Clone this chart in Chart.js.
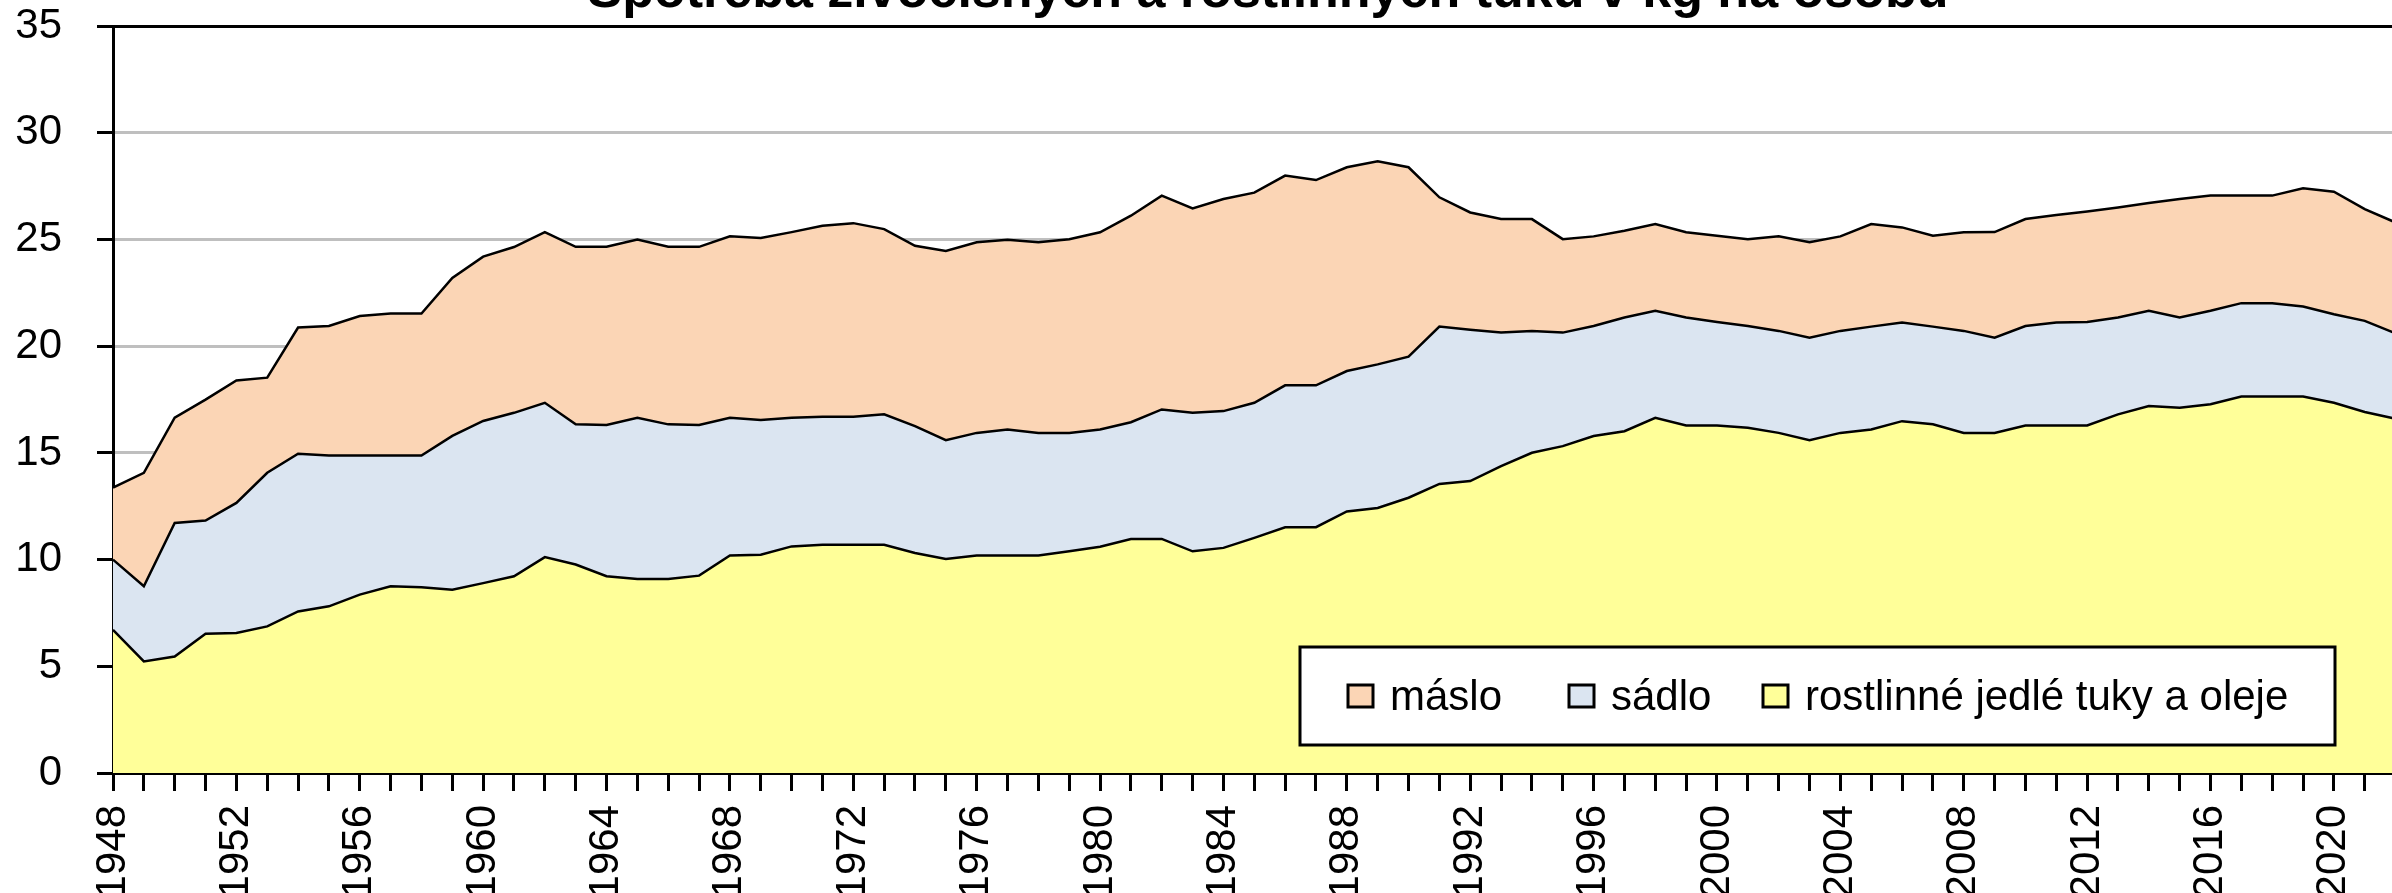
<!DOCTYPE html>
<html>
<head>
<meta charset="utf-8">
<script src="https://cdn.jsdelivr.net/npm/chart.js@4.4.1/dist/chart.umd.min.js"></script>
<style>
  html, body { margin: 0; padding: 0; background: #fff; overflow: hidden; }
  #wrap { position: absolute; left: 0; top: -34px; width: 2460px; height: 927px; }
  canvas { display: block; }
</style>
</head>
<body>
<div id="wrap"><canvas id="c" width="2460" height="927"></canvas></div>
<script>
const titleText = "Spotřeba živočišných a rostlinných tuků v kg na osobu";
const years = [];
for (let y = 1948; y <= 2022; y++) years.push(String(y));

const seriesNames = ["máslo", "sádlo", "rostlinné jedlé tuky a oleje"];

const oleje = [6.71,5.23,5.46,6.53,6.56,6.87,7.57,7.81,8.36,8.75,8.70,8.59,8.90,9.22,10.12,9.77,9.22,9.09,9.09,9.25,
  10.19,10.23,10.62,10.70,10.70,10.70,10.31,10.03,10.19,10.19,10.19,10.39,10.60,10.97,10.97,10.39,10.55,11.02,11.52,11.52,
  12.26,12.42,12.90,13.55,13.68,14.38,15.01,15.32,15.79,16.02,16.65,16.29,16.29,16.18,15.94,15.60,15.94,16.10,16.49,16.34,
  15.94,15.94,16.29,16.29,16.29,16.81,17.20,17.12,17.28,17.64,17.64,17.64,17.35,16.92,16.60];

const sadlo = [3.29,3.52,6.26,5.30,6.10,7.20,7.39,7.07,6.52,6.13,6.18,7.21,7.60,7.66,7.23,6.57,7.09,7.56,7.25,7.06,
  6.46,6.31,6.03,6.00,6.00,6.11,5.95,5.57,5.75,5.91,5.75,5.55,5.50,5.47,6.07,6.49,6.41,6.33,6.65,6.65,
  6.58,6.73,6.61,7.37,7.09,6.26,5.71,5.32,5.16,5.33,5.01,5.06,4.85,4.77,4.78,4.80,4.78,4.82,4.62,4.58,
  4.78,4.46,4.66,4.82,4.85,4.54,4.46,4.23,4.38,4.38,4.38,4.22,4.15,4.27,4.00];

const maslo = [3.37,5.32,4.93,5.67,5.74,4.46,5.92,6.07,6.54,6.65,6.65,7.40,7.70,7.77,8.00,8.32,8.35,8.35,8.32,8.35,
  8.50,8.53,8.70,8.95,9.07,8.68,8.45,8.87,8.93,8.89,8.93,9.08,9.24,9.68,10.02,9.58,9.94,9.85,9.83,9.62,
  9.55,9.52,8.88,6.06,5.50,5.32,5.24,4.38,4.20,4.06,4.07,3.99,4.04,4.07,4.43,4.47,4.43,4.81,4.46,4.26,
  4.62,4.95,5.01,5.04,5.18,5.15,5.05,5.55,5.40,5.04,5.04,5.54,5.74,5.24,5.20];

const yTicks = [0, 5, 10, 15, 20, 25, 30, 35];

const colors = { maslo: "#FBD5B5", sadlo: "#DBE5F1", oleje: "#FFFF99" };
const FONT = '"Liberation Sans", Arial, sans-serif';
const OFF = 34; // canvas is shifted up by this many px

const titlePlugin = {
  id: "topTitle",
  afterDraw(chart) {
    const ctx = chart.ctx;
    ctx.save();
    ctx.font = 'bold 52px ' + FONT;
    ctx.fillStyle = "#000";
    ctx.textAlign = "center";
    ctx.textBaseline = "alphabetic";
    ctx.fillText(titleText, 1268, 7 + OFF);
    ctx.restore();
  }
};

const legendPlugin = {
  id: "boxLegend",
  afterDraw(chart) {
    const ctx = chart.ctx;
    const box = { x: 1300, y: 647 + OFF, w: 1035, h: 98 };
    ctx.save();
    ctx.fillStyle = "#fff";
    ctx.fillRect(box.x, box.y, box.w, box.h);
    ctx.strokeStyle = "#000";
    ctx.lineWidth = 3;
    ctx.strokeRect(box.x, box.y, box.w, box.h);
    const markerX = [1348, 1569, 1763];
    const fills = [colors.maslo, colors.sadlo, colors.oleje];
    const cy = 696 + OFF;
    ctx.font = '42px ' + FONT;
    ctx.textBaseline = "middle";
    ctx.textAlign = "left";
    for (let i = 0; i < 3; i++) {
      ctx.fillStyle = fills[i];
      ctx.fillRect(markerX[i], cy - 11, 25, 22);
      ctx.lineWidth = 3;
      ctx.strokeStyle = "#000";
      ctx.strokeRect(markerX[i], cy - 11, 25, 22);
      ctx.fillStyle = "#000";
      ctx.fillText(seriesNames[i], markerX[i] + 42, cy + 2);
    }
    ctx.restore();
  }
};

new Chart(document.getElementById("c"), {
  type: "line",
  data: {
    labels: years,
    datasets: [
      { label: seriesNames[2], data: oleje, backgroundColor: colors.oleje, borderColor: "#000", borderWidth: 2.5, fill: "origin", pointRadius: 0, tension: 0 },
      { label: seriesNames[1], data: sadlo, backgroundColor: colors.sadlo, borderColor: "#000", borderWidth: 2.5, fill: "-1", pointRadius: 0, tension: 0 },
      { label: seriesNames[0], data: maslo, backgroundColor: colors.maslo, borderColor: "#000", borderWidth: 2.5, fill: "-1", pointRadius: 0, tension: 0 }
    ]
  },
  options: {
    responsive: false,
    devicePixelRatio: 1,
    animation: false,
    layout: { padding: { top: 27.5, right: 60, left: 0, bottom: 0 } },
    plugins: {
      legend: { display: false },
      title: { display: false },
      tooltip: { enabled: false }
    },
    scales: {
      x: {
        type: "category",
        offset: false,
        grid: { drawOnChartArea: false, drawTicks: true, tickLength: 18, tickColor: "#000", tickWidth: 3 },
        border: { display: true, color: "#000", width: 3 },
        ticks: {
          autoSkip: false,
          minRotation: 90,
          maxRotation: 90,
          padding: 14,
          color: "#000",
          font: { family: FONT, size: 42 },
          callback: function (value, index) { return index % 4 === 0 ? this.getLabelForValue(value) : ""; }
        },
        afterFit(scale) { scale.height = 120; }
      },
      y: {
        stacked: true,
        min: 0,
        max: 35,
        afterBuildTicks(scale) { scale.ticks = yTicks.map(v => ({ value: v })); },
        grid: {
          color: (c) => c.tick && c.tick.value === 35 ? "#000" : (c.tick && c.tick.value === 0 ? "rgba(0,0,0,0)" : "#BFBFBF"),
          lineWidth: 3,
          drawTicks: true,
          tickLength: 16,
          tickColor: "#000",
          tickWidth: 3
        },
        border: { display: true, color: "#000", width: 3 },
        ticks: {
          padding: 35,
          color: "#000",
          font: { family: FONT, size: 42 }
        },
        afterFit(scale) { scale.width = 113; }
      }
    }
  },
  plugins: [titlePlugin, legendPlugin]
});
</script>
</body>
</html>
